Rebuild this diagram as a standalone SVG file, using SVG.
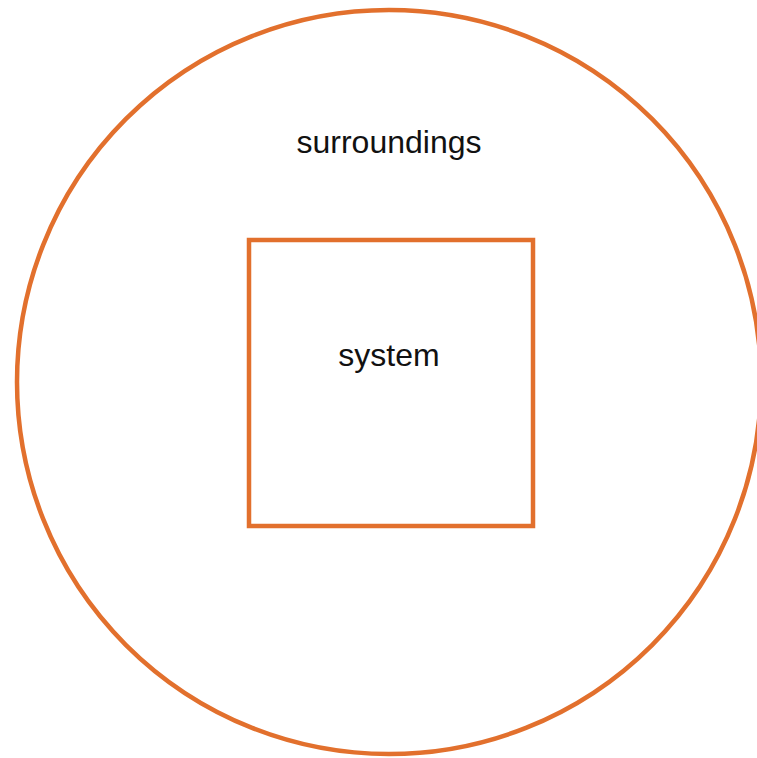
<svg xmlns="http://www.w3.org/2000/svg" width="757" height="758" viewBox="0 0 757 758">
<style>
.shape{fill:none;stroke:#E2702D;stroke-width:4.5}
.label{font-family:"Liberation Sans",Arial,sans-serif;font-size:32px;fill:#111;text-anchor:middle}
</style>
<rect width="757" height="758" fill="#fff"/>
<g id="surroundings">
<circle class="shape" cx="389" cy="382" r="372"/>
<text class="label" x="389" y="153">surroundings</text>
</g>
<g id="system">
<rect class="shape" x="249" y="240" width="284" height="286"/>
<text class="label" x="389" y="366">system</text>
</g>
<g id="connectors"></g>
</svg>
